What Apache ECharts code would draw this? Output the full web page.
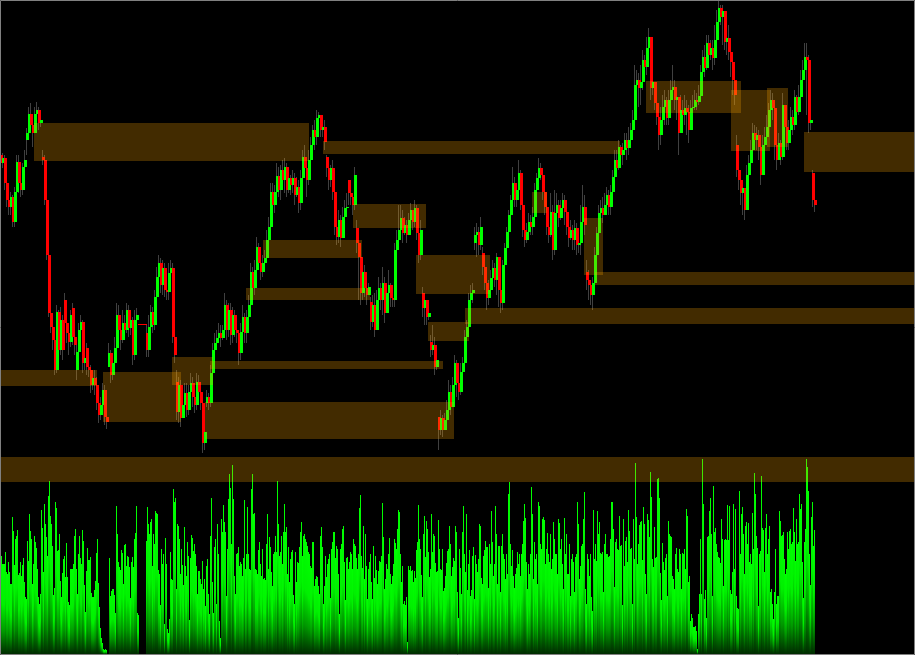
<!DOCTYPE html>
<html>
<head>
<meta charset="utf-8">
<style>html,body{margin:0;padding:0;background:#000}#c{width:915px;height:655px}</style>
<script src="https://cdn.jsdelivr.net/npm/echarts@6/dist/echarts.min.js"></script>
</head>
<body>
<div id="c"></div>
<script>
const closes = [
492,497,472,455,448,458,433,463,493,472,465,488,495,522,541,530,522,541,545,532,535,495,455,400,342,
328,315,285,343,305,335,305,332,322,313,340,318,310,303,325,333,292,297,288,285,270,277,270,252,240,
250,265,238,233,302,280,292,307,340,325,315,332,325,345,327,335,300,335,340,331,331,331,331,305,328,
343,330,358,378,392,370,387,365,363,382,387,318,300,243,270,237,250,262,245,263,272,258,250,273,263,
252,212,223,258,252,282,305,312,317,322,317,325,350,325,345,320,340,325,322,302,323,338,322,338,350,
383,367,385,408,392,383,392,397,415,428,463,450,463,479,465,485,475,488,465,477,470,477,460,468,452,
477,498,487,475,495,510,525,518,537,540,525,528,513,487,475,487,463,428,418,435,417,438,447,448,462,
458,450,480,412,398,362,383,367,360,368,333,350,325,355,367,355,372,342,362,370,357,355,405,415,425,
437,422,430,420,435,445,433,447,422,400,425,347,355,338,342,305,310,288,295,225,237,225,235,245,263,
248,270,292,272,263,283,292,318,328,355,362,365,420,423,410,428,388,372,357,365,377,387,375,398,365,
352,390,407,423,440,455,472,455,465,482,450,425,415,423,433,428,438,465,477,487,480,463,448,428,420,
443,405,442,450,437,447,455,443,428,417,425,415,427,410,412,433,448,430,375,370,360,372,400,422,442,
447,440,450,460,448,463,478,495,487,508,500,505,515,507,515,525,535,570,575,567,573,595,588,607,618,
567,573,552,538,520,535,548,555,537,555,565,568,555,558,522,545,540,547,543,525,547,548,555,553,559,
583,598,587,612,600,607,597,615,633,647,638,644,613,617,603,593,575,560,485,475,462,467,445,480,492,
505,522,515,520,508,480,510,518,528,545,555,547,510,495,512,498,550,528,512,525,538,530,558,543,558,
575,585,598,595,532,535,455,450];
const highs = [
510,502,500,478,460,463,460,468,500,500,475,492,505,527,548,552,535,548,553,548,540,505,500,458,405,
347,333,323,350,345,348,340,362,340,325,345,352,322,310,332,340,335,305,312,290,290,282,285,278,256,
258,272,270,242,312,305,300,318,352,350,335,345,340,352,350,345,338,345,347,331,331,331,331,330,340,
350,348,365,388,400,397,395,392,375,392,395,392,325,285,278,275,260,272,272,270,282,278,265,282,280,
268,256,232,265,262,290,312,322,325,332,330,330,362,355,352,352,348,345,330,325,332,350,342,345,360,
392,388,395,418,412,400,400,405,425,438,472,472,470,492,488,490,495,497,492,486,480,485,482,478,475,
485,505,510,495,505,518,530,535,545,543,538,535,535,500,492,490,495,472,440,445,440,448,455,462,475,
472,462,488,435,420,405,392,390,375,372,358,360,362,365,378,372,388,378,372,385,372,368,412,425,450,
450,445,438,435,442,452,445,455,450,430,435,368,362,350,348,320,330,318,300,238,245,240,242,255,275,
270,278,300,295,282,292,298,325,335,362,370,372,428,432,428,438,408,392,382,375,385,395,392,402,385,
370,395,412,428,445,460,488,478,472,495,485,452,432,432,442,440,448,472,482,497,492,480,465,445,435,
462,450,465,462,455,455,462,460,445,430,435,430,435,432,420,450,470,460,395,385,375,378,408,428,450,
455,458,462,468,465,470,485,505,505,515,510,512,522,522,528,532,545,590,585,582,590,605,600,618,627,
590,580,565,558,535,548,560,565,558,565,575,590,575,565,550,560,555,560,555,550,555,560,565,562,570,
590,605,610,620,620,615,615,630,645,655,650,650,640,632,630,605,590,578,520,492,485,475,460,490,500,
515,532,530,528,525,508,520,528,540,552,565,562,525,512,522,515,562,550,530,535,548,545,565,560,570,
585,595,612,612,600,545,485,462];
const lows = [
483,487,465,448,440,440,428,428,458,462,458,460,483,500,515,525,508,530,527,525,528,490,450,395,338,
322,305,280,282,298,300,295,325,312,300,308,310,300,275,298,318,282,285,280,278,262,265,260,245,232,
235,258,230,226,293,272,275,290,300,318,305,312,318,322,318,320,290,295,328,331,331,331,331,298,298,
322,322,325,352,372,362,360,358,355,355,378,312,292,235,232,228,240,242,238,240,262,248,242,245,255,
245,202,205,248,245,248,278,302,310,312,308,315,320,315,318,310,312,318,312,290,295,320,312,312,335,
345,358,360,380,385,375,378,385,392,410,420,445,442,458,458,455,465,462,458,462,460,462,450,458,442,
445,470,478,458,470,480,505,505,510,530,518,518,505,478,465,468,455,420,410,412,408,430,435,440,450,
450,440,445,402,355,350,355,358,350,360,325,328,318,325,348,345,340,332,350,355,348,348,348,405,415,
415,412,420,412,420,430,425,428,415,392,395,338,330,330,335,298,300,280,285,205,220,218,225,225,245,
240,248,262,258,255,260,280,285,318,320,352,352,405,398,400,405,380,365,345,350,360,375,368,360,348,
342,345,382,400,418,430,450,448,448,460,445,418,408,412,420,420,420,430,460,472,475,455,440,420,412,
418,395,400,435,428,435,440,430,420,408,415,405,405,400,402,400,425,420,365,355,350,345,368,395,420,
435,432,440,445,440,440,455,470,478,485,490,490,500,495,500,510,525,530,560,548,550,565,578,580,598,
555,560,545,530,505,510,525,530,530,530,545,555,545,535,500,525,525,530,520,512,532,535,545,545,550,
565,580,578,585,590,595,585,590,610,625,630,610,605,600,595,578,560,550,478,465,450,440,435,445,470,
490,505,505,505,495,470,480,505,510,525,540,535,495,485,500,490,495,520,505,505,520,520,525,535,540,
555,572,580,540,522,525,448,443];
// candles that opened away from the previous close
const gapIndex = [13,21,32,36,38,43,54,69,73,88,103,163,174,178,185,211,215,219,237,241,293,368,406];
const gapOpen  = [515,498,355,347,285,307,288,331,322,273,252,498,475,427,353,362,313,238,412,402,383,510,482];

const volumes = [
110,98,90,90,90,102,82,80,92,82,70,70,137,123,89,115,118,124,79,81,92,78,89,96,72,57,55,113,93,140,123,115,70,90,118,112,106,85,57,50,
60,144,126,82,150,130,117,98,158,173,138,130,108,59,66,152,146,103,104,120,73,57,81,95,98,77,111,77,52,49,85,85,85,90,118,125,85,60,100,118,
96,90,124,113,69,42,83,106,94,94,97,61,57,57,64,73,101,115,71,47,26,16,11,5,4,5,4,0,0,96,58,63,65,65,59,41,148,120,92,87,
84,104,101,70,109,110,88,98,97,87,56,92,97,87,115,121,148,41,39,0,0,0,0,0,0,0,113,147,130,120,132,135,88,120,110,143,141,140,84,80,
49,105,90,100,30,116,90,25,21,35,102,75,74,165,152,156,65,130,128,115,80,105,89,69,127,88,78,112,98,34,96,119,116,103,110,100,88,60,83,83,
75,70,93,65,75,48,88,95,60,40,118,156,72,41,107,115,50,130,100,33,16,135,122,149,132,122,58,105,155,180,166,110,189,155,78,60,100,101,107,88,
92,90,78,96,154,85,100,147,100,85,84,165,180,140,141,85,84,80,104,112,90,78,105,75,76,74,110,140,85,117,107,82,68,100,102,118,102,173,130,98,
102,118,90,122,150,122,127,80,107,72,95,102,104,59,50,102,72,92,91,107,122,132,98,118,120,115,112,108,102,100,88,86,112,112,68,75,78,77,68,60,
118,127,107,50,68,98,77,90,95,100,56,105,112,122,122,96,108,105,80,40,105,110,125,128,92,54,96,97,85,92,102,100,85,115,110,108,96,85,100,146,
159,98,86,128,75,120,88,55,85,92,100,72,55,108,76,98,84,70,83,93,92,98,151,117,65,75,90,85,100,116,80,70,78,90,115,111,105,125,144,142,
100,72,88,50,53,49,57,12,88,84,88,83,84,72,83,76,104,112,149,115,105,79,57,120,138,97,133,125,102,77,85,140,102,120,118,91,82,83,134,105,
85,84,105,63,66,78,91,103,105,128,110,78,87,96,93,128,122,62,36,105,86,60,122,148,100,82,140,64,90,104,58,64,98,107,55,99,90,82,95,130,
128,76,70,98,104,113,107,107,66,110,90,143,112,78,90,148,120,70,108,108,62,108,120,100,95,75,100,80,160,172,110,88,104,78,66,80,86,102,90,100,
78,100,110,133,150,136,92,65,90,80,100,167,140,75,112,95,100,70,152,148,110,105,135,137,134,90,105,121,100,92,120,85,95,132,115,100,100,80,135,131,
105,115,90,65,136,100,120,80,80,110,58,95,100,92,62,97,100,152,130,75,88,108,110,135,162,65,50,100,95,78,100,57,43,144,95,110,93,143,120,132,
101,100,102,62,110,120,100,100,97,98,115,152,152,125,67,112,115,105,104,138,108,109,49,135,88,113,117,92,144,123,105,106,50,135,95,191,137,90,110,129,
132,133,94,147,130,80,60,140,134,117,182,157,95,87,127,96,97,175,176,156,81,54,111,92,84,96,100,58,133,120,118,117,78,75,65,100,106,85,82,105,
100,65,101,100,105,85,145,138,72,78,33,40,36,27,27,28,23,5,40,60,115,60,195,150,55,64,36,117,118,143,156,120,58,168,122,126,110,102,97,96,
91,135,115,68,114,115,114,149,114,148,64,60,82,150,85,145,58,46,45,163,100,140,147,120,80,128,132,110,131,92,100,90,141,105,181,160,118,106,48,100,
103,178,126,124,82,126,140,100,115,128,62,65,50,35,62,105,50,58,58,143,133,118,119,122,95,80,85,122,105,123,125,110,112,146,122,93,135,110,112,160,
145,150,92,56,112,125,195,187,163,100,69,137,152,108,124];

// supply/demand zones: [start bar, end bar, upper price, lower price]
const zoneStart = [34,323,353,263,416,246,584,595,465,428,172,0,103,205,210,0,804,731,767,646,532];
const zoneEnd   = [309,620,426,362,490,370,603,915,915,469,213,97,181,454,443,915,915,770,788,741,547];
const zoneUpper = [532,514,451,415,400,367,437,383,347,333,298,285,283,253,294,198,523,565,567,574,463];
const zoneLower = [494,501,427,397,361,355,380,370,331,314,270,269,233,216,286,173,483,504,508,542,442];

const barCount = 915;
const candleStep = 2;

const gapMap = {};
gapIndex.forEach((k, i) => { gapMap[k] = gapOpen[i]; });
const candleData = closes.map((c, k) => {
  const open = gapMap[k] !== undefined ? gapMap[k] : (k ? closes[k - 1] : 500);
  return [k * candleStep + 1, open, c, lows[k], highs[k]];
});
const volumeData = volumes.map((v, i) => [i + 0.5, v]);
const zoneData = zoneStart.map((s, i) => [
  { coord: [s, zoneUpper[i]] },
  { coord: [zoneEnd[i], zoneLower[i]] }
]);

function renderWick(params, api) {
  const p1 = api.coord([api.value(0), api.value(4)]);
  const p2 = api.coord([api.value(0), api.value(3)]);
  const x = Math.round(p1[0]) - 0.5;
  return { type: 'line', shape: { x1: x, y1: Math.round(p1[1]), x2: x, y2: Math.round(p2[1]) },
    style: { stroke: '#404040', lineWidth: 1 }, silent: true };
}
function renderBody(params, api) {
  const o = api.value(1), c = api.value(2);
  const p1 = api.coord([api.value(0), Math.max(o, c)]);
  const p2 = api.coord([api.value(0), Math.min(o, c)]);
  const top = Math.round(p1[1]);
  const h = Math.max(1, Math.round(p2[1]) - top);
  return { type: 'rect', shape: { x: Math.round(p1[0]) - 1, y: top, width: 3, height: h },
    style: { fill: c > o ? '#00ff00' : '#ff0000', stroke: null }, silent: true };
}

const chart = echarts.init(document.getElementById('c'), null, { renderer: 'canvas' });
chart.setOption({
  backgroundColor: '#000000',
  animation: false,
  tooltip: { show: false },
  grid: [
    { left: 0, top: 0, width: 915, height: 655, show: false },
    { left: 0, top: 455, width: 915, height: 199, show: false }
  ],
  xAxis: [
    { type: 'value', gridIndex: 0, min: 0, max: barCount, show: false },
    { type: 'value', gridIndex: 1, min: 0, max: barCount, show: false }
  ],
  yAxis: [
    { type: 'value', gridIndex: 0, min: 0, max: 655, show: false },
    { type: 'value', gridIndex: 1, min: 0, max: 199, show: false }
  ],
  graphic: [{
    type: 'rect', silent: true, z: 100,
    shape: { x: 0.5, y: 0.5, width: 914, height: 654 },
    style: { fill: 'transparent', stroke: '#808080', lineWidth: 1 }
  }],
  series: [
    {
      name: 'Volume', type: 'bar', xAxisIndex: 1, yAxisIndex: 1, z: 1,
      data: volumeData, barWidth: 1, silent: true,
      itemStyle: {
        color: new echarts.graphic.LinearGradient(0, 0, 0, 1, [
          { offset: 0, color: '#00ff00' },
          { offset: 0.45, color: '#00f000' },
          { offset: 0.75, color: '#009800' },
          { offset: 1, color: '#002c00' }
        ])
      }
    },
    { name: 'Wicks', type: 'custom', xAxisIndex: 0, yAxisIndex: 0, z: 2, data: candleData,
      renderItem: renderWick, encode: { x: 0, y: [1, 2, 3, 4] }, clip: true },
    { name: 'Bodies', type: 'custom', xAxisIndex: 0, yAxisIndex: 0, z: 3, data: candleData,
      renderItem: renderBody, encode: { x: 0, y: [1, 2, 3, 4] }, clip: true },
    {
      name: 'Zones', type: 'line', xAxisIndex: 0, yAxisIndex: 0, z: 5, data: [], silent: true,
      markArea: { silent: true, z: 5, itemStyle: { color: 'rgba(255,165,0,0.26)', borderWidth: 0 }, label: { show: false }, data: zoneData }
    }
  ]
});
</script>
</body>
</html>
